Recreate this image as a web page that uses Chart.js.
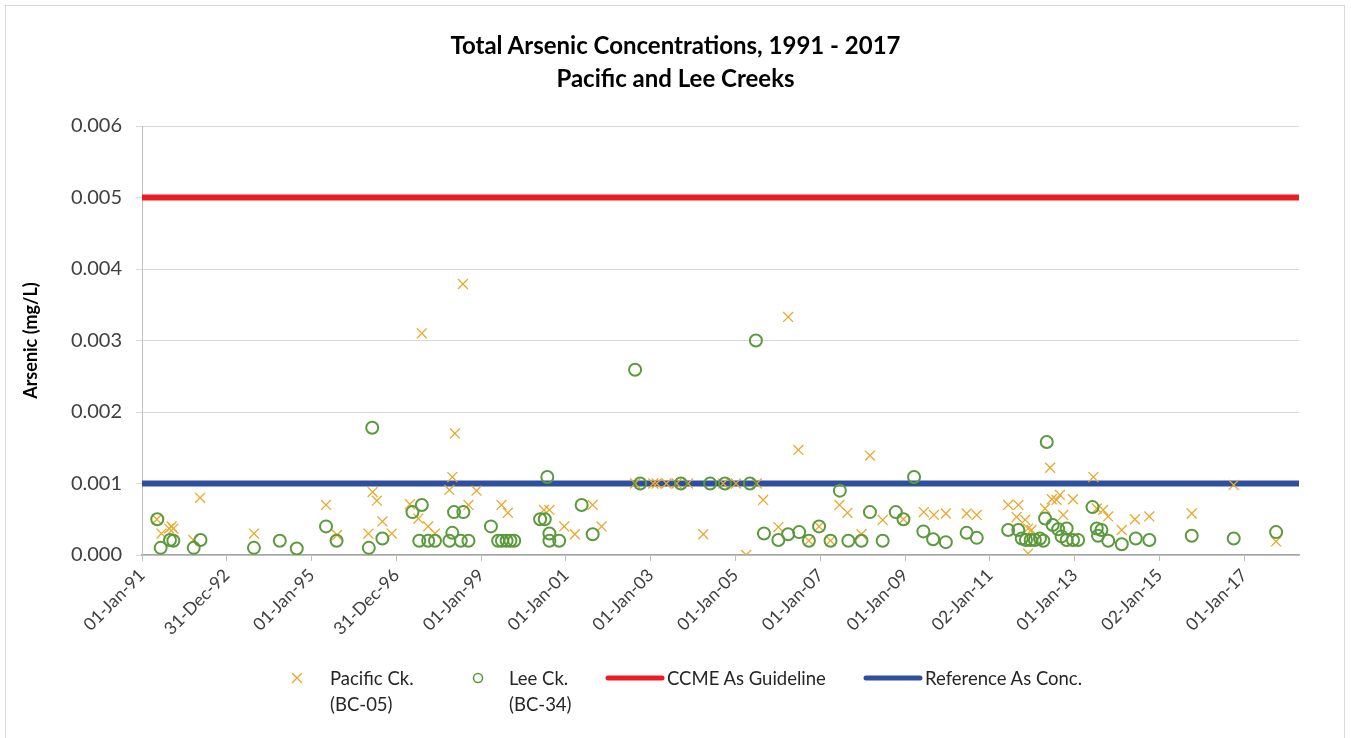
<!DOCTYPE html>
<html>
<head>
    <script src="https://cdn.jsdelivr.net/npm/chart.js"></script>
    <style>
        body { margin: 0; background: #fff; font-family: Lato, "Open Sans", sans-serif; }
        #frame { position: absolute; left: 5px; top: 5px; width: 1340px; height: 745px; border: 1px solid #d9d9d9; box-sizing: border-box; }
        #wrap { position: absolute; left: 0; top: 0; width: 1351px; height: 738px; }
        .title { position: absolute; left: 0; width: 1351px; text-align: center; font-weight: 700; font-size: 24px; line-height: 30px; color: #000; }
        .leg { position: absolute; font-size: 18.5px; color: #262626; line-height: 26px; }
        .mark { position: absolute; }
    </style>
</head>
<body>
<div id="frame"></div>
<div id="wrap">
    <canvas id="chart" width="1351" height="738"></canvas>
</div>
<div class="title" style="top:30px">Total Arsenic Concentrations, 1991 - 2017</div>
<div class="title" style="top:63px">Pacific and Lee Creeks</div>

<!-- legend -->
<svg class="mark" style="left:291px; top:672px" width="12" height="12"><path d="M1 1 L11 11 M11 1 L1 11" stroke="#e9a82b" stroke-width="1.3"/></svg>
<div class="leg" style="left:330px; top:665px">Pacific Ck.<br>(BC-05)</div>
<svg class="mark" style="left:472px; top:672px" width="12" height="12"><circle cx="6" cy="6" r="4.5" fill="none" stroke="#5b9a3c" stroke-width="1.6"/></svg>
<div class="leg" style="left:509px; top:665px">Lee Ck.<br>(BC-34)</div>
<svg class="mark" style="left:605px; top:673px" width="60" height="10"><path d="M3 5 L57 5" stroke="#ed1c24" stroke-width="5" stroke-linecap="round"/></svg>
<div class="leg" style="left:667px; top:665px">CCME As Guideline</div>
<svg class="mark" style="left:863px; top:673px" width="60" height="10"><path d="M3 5 L57 5" stroke="#2e4ea0" stroke-width="5" stroke-linecap="round"/></svg>
<div class="leg" style="left:925px; top:665px">Reference As Conc.</div>

<script>
    // x axis: decimal years, ticks every 2 years
    var xMin = 1991.0;
    var xMax = 2018.29;
    var tickYears = [1991, 1993, 1995, 1997, 1999, 2001, 2003, 2005, 2007, 2009, 2011, 2013, 2015, 2017];
    var tickLabels = ['01-Jan-91', '31-Dec-92', '01-Jan-95', '31-Dec-96', '01-Jan-99', '01-Jan-01', '01-Jan-03',
                      '01-Jan-05', '01-Jan-07', '01-Jan-09', '02-Jan-11', '01-Jan-13', '02-Jan-15', '01-Jan-17'];

    // Pacific Ck. (BC-05)
    var pacificDates = [1991.35, 1991.46, 1991.64, 1991.70, 1991.74, 1992.21, 1992.37, 1993.64, 1995.34, 1995.60,
        1996.34, 1996.44, 1996.54, 1996.67, 1996.89, 1997.32, 1997.52, 1997.60, 1997.75, 1997.91,
        1998.25, 1998.32, 1998.38, 1998.57, 1998.70, 1998.89, 1999.48, 1999.63, 2000.48, 2000.61,
        2000.96, 2001.21, 2001.63, 2001.84, 2002.63, 2003.06, 2003.14, 2003.37, 2003.61, 2003.88,
        2004.24, 2004.71, 2005.01, 2005.25, 2005.50, 2005.65, 2006.01, 2006.24, 2006.48, 2006.73,
        2006.97, 2007.24, 2007.45, 2007.64, 2007.97, 2008.17, 2008.47, 2008.96, 2009.44, 2009.68,
        2009.96, 2010.45, 2010.69, 2011.43, 2011.63, 2011.67, 2011.83, 2011.90, 2011.98, 2011.90,
        2012.30, 2012.42, 2012.46, 2012.57, 2012.65, 2012.73, 2012.96, 2013.44, 2013.52, 2013.67,
        2013.79, 2014.11, 2014.42, 2014.76, 2015.76, 2016.75, 2017.75];
    var pacificAs = [0.00050, 0.00030, 0.00037, 0.00040, 0.00037, 0.00021, 0.00080, 0.00030, 0.00070, 0.00028,
        0.00030, 0.00088, 0.00076, 0.00047, 0.00030, 0.00071, 0.00051, 0.00310, 0.00040, 0.00030,
        0.00091, 0.00109, 0.00170, 0.00379, 0.00070, 0.00090, 0.00070, 0.00059, 0.00063, 0.00063,
        0.00040, 0.00029, 0.00070, 0.00040, 0.00100, 0.00100, 0.00100, 0.00100, 0.00100, 0.00100,
        0.00029, 0.00100, 0.00100, 0.00000, 0.00100, 0.00077, 0.00039, 0.00333, 0.00147, 0.00020,
        0.00040, 0.00020, 0.00070, 0.00059, 0.00029, 0.00139, 0.00049, 0.00050, 0.00060, 0.00056,
        0.00058, 0.00058, 0.00056, 0.00070, 0.00053, 0.00070, 0.00049, 0.00037, 0.00035, 0.00002,
        0.00065, 0.00122, 0.00078, 0.00077, 0.00084, 0.00056, 0.00078, 0.00109, 0.00065, 0.00063,
        0.00054, 0.00035, 0.00050, 0.00054, 0.00058, 0.00098, 0.00019];

    // Lee Ck. (BC-34)
    var leeDates = [1991.36, 1991.44, 1991.66, 1991.74, 1992.22, 1992.38, 1993.64, 1994.25, 1994.65, 1995.34,
        1995.59, 1996.35, 1996.43, 1996.67, 1997.38, 1997.54, 1997.60, 1997.75, 1997.91, 1998.25,
        1998.32, 1998.36, 1998.52, 1998.58, 1998.70, 1999.23, 1999.40, 1999.49, 1999.60, 1999.69,
        1999.78, 2000.39, 2000.50, 2000.56, 2000.61, 2000.61, 2000.84, 2001.37, 2001.63, 2002.63,
        2002.75, 2003.71, 2004.40, 2004.75, 2005.34, 2005.48, 2005.67, 2006.01, 2006.24, 2006.50,
        2006.73, 2006.97, 2007.24, 2007.46, 2007.66, 2007.97, 2008.17, 2008.47, 2008.78, 2008.96,
        2009.21, 2009.43, 2009.66, 2009.96, 2010.45, 2010.69, 2011.43, 2011.67, 2011.75, 2011.85,
        2011.96, 2012.06, 2012.18, 2012.26, 2012.30, 2012.34, 2012.48, 2012.61, 2012.69, 2012.81,
        2012.81, 2012.96, 2013.08, 2013.42, 2013.52, 2013.55, 2013.63, 2013.79, 2014.11, 2014.44,
        2014.76, 2015.76, 2016.75, 2017.75];
    var leeAs = [0.00050, 0.00010, 0.00021, 0.00020, 0.00010, 0.00021, 0.00010, 0.00020, 0.00009, 0.00040,
        0.00020, 0.00010, 0.00178, 0.00023, 0.00060, 0.00020, 0.00070, 0.00020, 0.00020, 0.00020,
        0.00031, 0.00060, 0.00020, 0.00060, 0.00020, 0.00040, 0.00020, 0.00020, 0.00020, 0.00020,
        0.00020, 0.00050, 0.00050, 0.00109, 0.00030, 0.00020, 0.00020, 0.00070, 0.00029, 0.00259,
        0.00100, 0.00100, 0.00100, 0.00100, 0.00100, 0.00300, 0.00030, 0.00021, 0.00029, 0.00032,
        0.00020, 0.00040, 0.00020, 0.00090, 0.00020, 0.00020, 0.00060, 0.00020, 0.00060, 0.00050,
        0.00109, 0.00033, 0.00022, 0.00018, 0.00031, 0.00024, 0.00035, 0.00035, 0.00023, 0.00021,
        0.00021, 0.00021, 0.00023, 0.00020, 0.00051, 0.00158, 0.00042, 0.00036, 0.00026, 0.00037,
        0.00021, 0.00021, 0.00021, 0.00067, 0.00037, 0.00027, 0.00035, 0.00020, 0.00015, 0.00023,
        0.00021, 0.00027, 0.00023, 0.00032];

    // horizontal reference levels
    var guideNames = ['CCME As Guideline', 'Reference As Conc.'];
    var guideValues = [0.005, 0.001];
    var guideColors = ['#ed1c24', '#2e4ea0'];

    function toPoints(xs, ys) {
        return xs.map(function (x, i) { return { x: x, y: ys[i] }; });
    }

    var datasets = [
        {
            label: 'Pacific Ck. (BC-05)',
            data: toPoints(pacificDates, pacificAs),
            showLine: false,
            pointStyle: 'crossRot',
            pointRadius: 7,
            borderWidth: 1.3,
            borderColor: '#e9a82b',
            backgroundColor: '#e9a82b',
            order: 2
        },
        {
            label: 'Lee Ck. (BC-34)',
            data: toPoints(leeDates, leeAs),
            showLine: false,
            pointStyle: 'circle',
            pointRadius: 6,
            borderWidth: 2,
            borderColor: '#5b9a3c',
            backgroundColor: 'rgba(0,0,0,0)',
            order: 1
        }
    ];
    guideNames.forEach(function (name, i) {
        datasets.push({
            label: name,
            data: [{ x: xMin, y: guideValues[i] }, { x: xMax, y: guideValues[i] }],
            showLine: true,
            borderColor: guideColors[i],
            borderWidth: 6,
            pointRadius: 0,
            order: 5
        });
    });

    var ctx = document.getElementById('chart').getContext('2d');
    new Chart(ctx, {
        type: 'scatter',
        data: { datasets: datasets },
        options: {
            responsive: false,
            animation: false,
            layout: { padding: { left: 10, right: 52, top: 126, bottom: 0 } },
            plugins: { legend: { display: false }, tooltip: { enabled: false } },
            scales: {
                x: {
                    type: 'linear',
                    min: xMin,
                    max: xMax,
                    afterBuildTicks: function (scale) {
                        scale.ticks = tickYears.map(function (v) { return { value: v }; });
                    },
                    afterFit: function (scale) { scale.height = 183; },
                    ticks: {
                        autoSkip: false,
                        minRotation: 45,
                        maxRotation: 45,
                        padding: 4,
                        color: '#404040',
                        font: { family: 'Lato', size: 17.5 },
                        callback: function (value, index) { return tickLabels[index]; }
                    },
                    grid: { drawOnChartArea: false, drawTicks: true, tickLength: 6, color: '#bfbfbf' },
                    border: { color: '#a6a6a6', width: 1.5 }
                },
                y: {
                    min: 0,
                    max: 0.006,
                    afterFit: function (scale) { scale.width = 132; },
                    ticks: {
                        stepSize: 0.001,
                        padding: 14,
                        color: '#404040',
                        font: { family: 'Lato', size: 20 },
                        callback: function (v) { return v.toFixed(3); }
                    },
                    grid: { color: '#d9d9d9', tickLength: 6 },
                    border: { color: '#bfbfbf' },
                    title: {
                        display: true,
                        text: 'Arsenic (mg/L)',
                        color: '#000',
                        font: { family: 'Lato', size: 18, weight: 'bold' },
                        padding: { top: 10, bottom: 0 }
                    }
                }
            }
        }
    });
</script>
</body>
</html>
